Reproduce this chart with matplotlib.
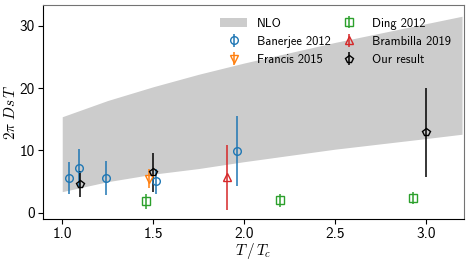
import numpy as np
import matplotlib
matplotlib.use("Agg")
from matplotlib import pyplot as plt

# NLO band edges
nlo_T = [1.0, 1.25, 1.5, 1.75, 2.0, 2.5, 3.0, 3.2]
nlo_hi = [15.4, 18.0, 20.2, 22.2, 24.0, 27.3, 30.3, 31.5]
nlo_lo = [3.4, 5.0, 6.2, 7.1, 8.2, 10.2, 11.9, 12.6]

banerjee_T = [1.04, 1.09, 1.24, 1.515, 1.96]
banerjee_D = [5.6, 7.2, 5.6, 5.1, 9.9]
banerjee_err = [2.5, 3.0, 2.75, 2.0, 5.6]

francis_T = [1.48]
francis_D = [5.5]
francis_err = [1.5]

ding_T = [1.46, 2.2, 2.93]
ding_D = [1.9, 2.0, 2.4]
ding_err = [1.2, 1.0, 1.0]

brambilla_T = [1.905]
brambilla_D = [5.7]
brambilla_err = [5.2]

our_T = [1.1, 1.5, 3.0]
our_D = [4.6, 6.5, 12.9]
our_err = [2.1, 3.1, 7.1]

plt.rcParams['font.family'] = ['cmss10', 'DejaVu Sans']
plt.rcParams['font.size'] = 11
plt.rcParams['mathtext.fontset'] = 'cm'
plt.rcParams['axes.unicode_minus'] = False
plt.rcParams['xtick.major.pad'] = 2.5
plt.rcParams['ytick.major.pad'] = 2.5

fig = plt.figure(figsize=(4.69, 2.64), dpi=100)
ax = fig.add_axes([0.092, 0.17, 0.897, 0.811])

ax.fill_between(nlo_T, nlo_lo, nlo_hi, color='#cccccc', lw=0, label='NLO', zorder=1)

kw = dict(ls='none', mfc='none', ms=5.5, mew=1, elinewidth=1.1, zorder=3)
ax.errorbar(banerjee_T, banerjee_D, yerr=banerjee_err, fmt='o', color='tab:blue',
            label='Banerjee 2012', **kw)
ax.errorbar(francis_T, francis_D, yerr=francis_err, fmt='v', color='tab:orange',
            label='Francis 2015', **kw)
ax.errorbar(ding_T, ding_D, yerr=ding_err, fmt='s', color='tab:green',
            label='Ding 2012', **kw)
ax.errorbar(brambilla_T, brambilla_D, yerr=brambilla_err, fmt='^', color='tab:red',
            label='Brambilla 2019', **kw)
ax.errorbar(our_T, our_D, yerr=our_err, fmt='p', color='black',
            label='Our result', **kw)

ax.set_xlim(0.895, 3.21)
ax.set_ylim(-1.0, 33.3)
ax.set_xticks([1.0, 1.5, 2.0, 2.5, 3.0])
ax.set_yticks([0, 10, 20, 30])
ax.set_xlabel(r'$T\,/\,T_c$', labelpad=0)
ax.set_ylabel(r'$2\pi\ Ds\, T$', labelpad=1)
for s in ['top', 'right']:
    ax.spines[s].set_color('0.45')

ax.legend(ncol=2, frameon=False, loc='upper right', fontsize=9,
          labelspacing=0.5, handlelength=2.2, handletextpad=0.8,
          columnspacing=0.3, borderaxespad=0.6)

fig.savefig('out.png', dpi=100)
